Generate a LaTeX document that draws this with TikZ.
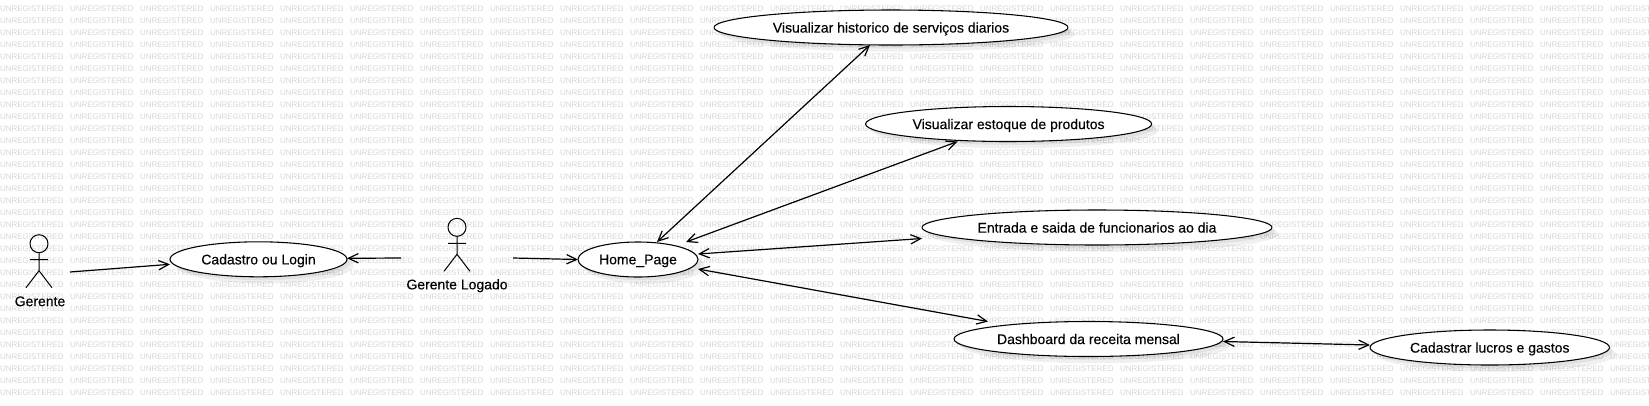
\documentclass[tikz,border=0pt]{standalone}
\usepackage{fontspec}
\setmainfont{Liberation Sans}
\newfontfamily\labelfont[FakeBold=0.2]{Liberation Sans}
\usetikzlibrary{arrows.meta,shadows,shapes.geometric}
\definecolor{wmgray}{HTML}{D6D6D6}
\tikzset{
	usecase/.style={draw=black,line width=0.8pt,fill=white,ellipse,inner sep=0pt,outer sep=0pt,minimum height=35*0.75pt,text depth=0pt,
		drop shadow={shadow xshift=2.5pt,shadow yshift=-2.5pt,opacity=0.06,fill=black},
		drop shadow={shadow xshift=5pt,shadow yshift=-5pt,opacity=0.06,fill=black}},
	assoc/.style={line width=0.9pt,>={Straight Barb[length=7.5pt,width=7pt]}},
	wmark/.style={inner sep=0pt,outer sep=0pt,anchor=west,text=wmgray,font=\fontsize{6}{6}\selectfont},
	actorfig/.pic={
		\draw[line width=0.75pt] (0,0) circle (9);
		\draw[line width=0.75pt] (0,9)--(0,27) (-9,16)--(9,16) (-13,44)--(0,27)--(13,44);
	}
}
\begin{document}
\begin{tikzpicture}[x=0.75pt,y=-0.75pt,font=\labelfont\fontsize{10.5}{12}\selectfont,line join=round]
	\useasboundingbox (0,0) rectangle (1649,405);
	% marca
	\foreach \c in {0,...,23}
		\foreach \r in {0,...,32}
			\node[wmark] (wm-\c-\r) at (70*\c,9+12*\r) {UNREGISTERED};
	% casos de uso
	\node[usecase,minimum width=177*0.75pt] (login) at (258.5,259.3) {Cadastro ou Login};
	\node[usecase,minimum width=120*0.75pt] (home) at (638,259.5) {Home\_Page};
	\node[usecase,minimum width=354*0.75pt] (hist) at (891,27.5) {Visualizar historico de serviços diarios};
	\node[usecase,minimum width=286*0.75pt] (estoque) at (1008.6,124) {Visualizar estoque de produtos};
	\node[usecase,minimum width=350*0.75pt] (entrada) at (1097,227.5) {Entrada e saida de funcionarios ao dia};
	\node[usecase,minimum width=269*0.75pt] (dash) at (1088.5,339) {Dashboard da receita mensal};
	\node[usecase,minimum width=239.5*0.75pt] (lucros) at (1489.75,347.5) {Cadastrar lucros e gastos};
	% atores
	\pic at (39,243.7) {actorfig};
	\node[inner sep=0pt] (gerente) at (40,301.3) {Gerente};
	\pic at (457,227.3) {actorfig};
	\node[inner sep=0pt] (logado) at (457,285.7) {Gerente Logado};
	\coordinate (gerenteOut) at (70,272);
	\coordinate (logadoLeft) at (401,258);
	\coordinate (logadoRight) at (513,258);
	% ligacoes
	\draw[assoc,->] (gerenteOut)--([shift={(0,5)}]login.west);
	\draw[assoc,->] (logadoLeft)--([shift={(0,-1)}]login.east);
	\draw[assoc,->] (logadoRight)--(home.west);
	\draw[assoc,<->] ([shift={(19,0)}]home.north)--([shift={(-21,0)}]hist.south);
	\draw[assoc,<->] ([shift={(48,0)}]home.north)--([shift={(-51,0)}]estoque.south);
	\draw[assoc,<->] ([shift={(0,-5.5)}]home.east)--([shift={(0,11)}]entrada.west);
	\draw[assoc,<->] ([shift={(0,9.5)}]home.east)--([shift={(-100.5,0)}]dash.north);
	\draw[assoc,<->] ([shift={(0,2.5)}]dash.east)--([shift={(0,-2.5)}]lucros.west);
\end{tikzpicture}
\end{document}
